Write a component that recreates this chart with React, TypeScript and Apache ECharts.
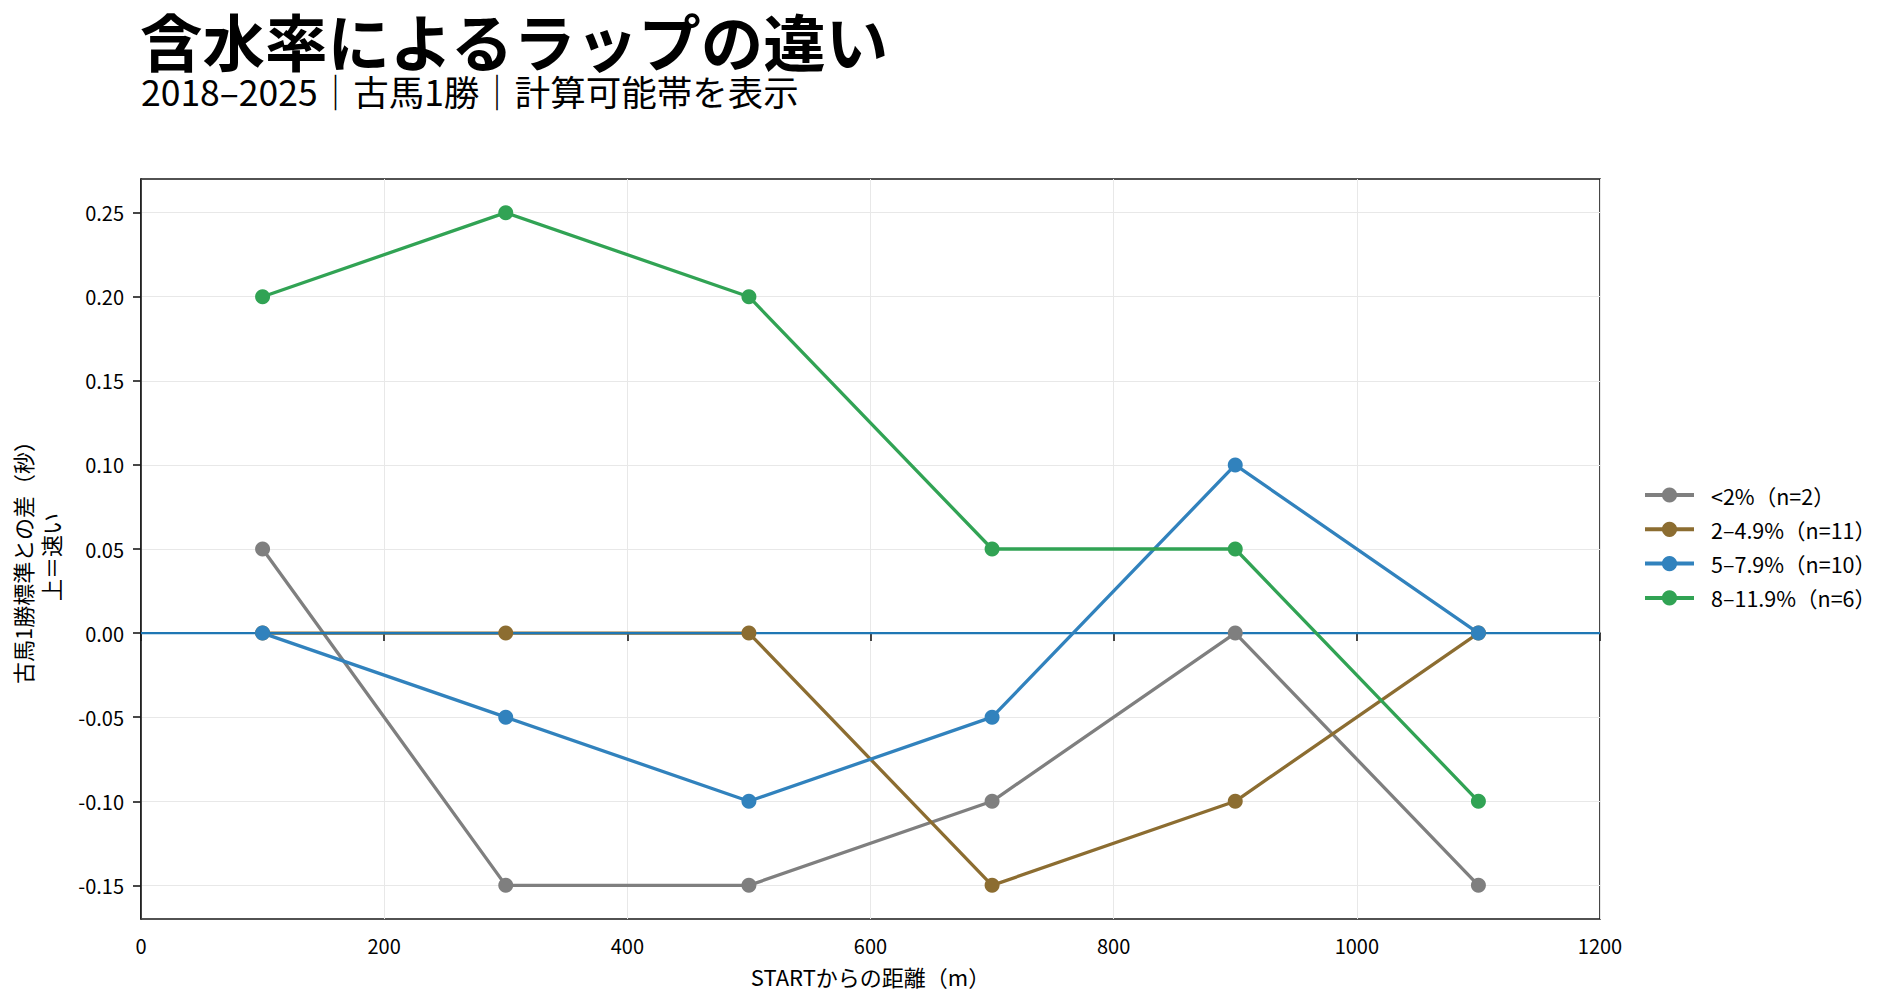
import React, { useEffect, useRef } from "react";
import * as echarts from "echarts";

const FONT = "'Noto Sans CJK JP', 'Noto Sans', sans-serif";

const TITLE = "含水率によるラップの違い";
const SUBTITLE = "2018–2025｜古馬1勝｜計算可能帯を表示";
const X_NAME = "STARTからの距離（m）";
const Y_NAME = "古馬1勝標準との差（秒）\n上＝速い";

const distances = [100, 300, 500, 700, 900, 1100];
const seriesNames = ["<2%（n=2）", "2–4.9%（n=11）", "5–7.9%（n=10）", "8–11.9%（n=6）"];
const seriesColors = ["#7f7f7f", "#8c6d31", "#3182bd", "#31a354"];
const under2 = [0.05, -0.15, -0.15, -0.1, 0.0, -0.15];
const from2to49 = [0.0, 0.0, 0.0, -0.15, -0.1, 0.0];
const from5to79 = [0.0, -0.05, -0.1, -0.05, 0.1, 0.0];
const from8to119 = [0.2, 0.25, 0.2, 0.05, 0.05, -0.1];
const seriesValues = [under2, from2to49, from5to79, from8to119];

const yTicks = [-0.15, -0.1, -0.05, 0, 0.05, 0.1, 0.15, 0.2, 0.25];
const yMin = -0.17;
const yMax = 0.27;
const xMin = 0;
const xMax = 1200;
const xInterval = 200;
const zeroLine = [[xMin, 0], [xMax, 0]];

export default function App() {
  const ref = useRef<HTMLDivElement>(null);
  useEffect(() => {
    if (!ref.current) return;
    const chart = echarts.init(ref.current, undefined, { renderer: "svg" });
    const dataSeries = seriesNames.map((name, i) => ({
      name,
      type: "line",
      data: distances.map((d, j) => [d, seriesValues[i][j]]),
      symbol: "circle",
      symbolSize: 15,
      showSymbol: true,
      lineStyle: { color: seriesColors[i], width: 3.3 },
      itemStyle: { color: seriesColors[i] },
      emphasis: { disabled: true },
    }));
    const zero = {
      name: "zero",
      type: "line",
      data: zeroLine,
      symbol: "none",
      lineStyle: { color: "#1f77b4", width: 2.2 },
      emphasis: { disabled: true },
      silent: true,
    };
    const series = [dataSeries[0], dataSeries[1], zero, dataSeries[2], dataSeries[3]];
    chart.setOption({
      animation: false,
      backgroundColor: "#ffffff",
      textStyle: { fontFamily: FONT },
      graphic: [
        {
          type: "text",
          x: 140,
          y: 39,
          style: {
            text: TITLE,
            font: `bold 62.5px ${FONT}`,
            lineHeight: 62,
            fill: "#000",
            verticalAlign: "middle",
            align: "left",
          },
        },
        {
          type: "text",
          x: 141,
          y: 90,
          style: {
            text: SUBTITLE,
            font: `35.5px ${FONT}`,
            lineHeight: 36,
            fill: "#000",
            verticalAlign: "middle",
            align: "left",
          },
        },
        {
          type: "text",
          x: 36,
          y: 557,
          rotation: Math.PI / 2,
          style: {
            text: Y_NAME,
            font: `22px ${FONT}`,
            lineHeight: 28,
            fill: "#000",
            verticalAlign: "middle",
            align: "center",
          },
        },
      ],
      grid: {
        left: 141,
        top: 179,
        right: 287,
        bottom: 86,
        show: true,
        borderColor: "#1a1a1a",
        borderWidth: 1.6,
        backgroundColor: "transparent",
        outerBoundsMode: "none",
        containLabel: false,
      },
      legend: {
        orient: "vertical",
        left: 1638,
        top: 478,
        data: seriesNames,
        itemWidth: 49,
        itemHeight: 19,
        itemGap: 10.3,
        selectedMode: false,
        lineStyle: { width: 4 },
        textStyle: {
          fontFamily: FONT,
          fontSize: 21.5,
          lineHeight: 24,
          color: "#000",
          padding: [0, 0, 0, 12],
        },
      },
      xAxis: {
        type: "value",
        min: xMin,
        max: xMax,
        interval: xInterval,
        name: X_NAME,
        nameLocation: "middle",
        nameGap: 44,
        nameTextStyle: { fontFamily: FONT, fontSize: 22, color: "#000", lineHeight: 26 },
        axisLine: { show: true, lineStyle: { color: "#1a1a1a", width: 1.6 } },
        axisTick: { show: true, length: 8, lineStyle: { color: "#1a1a1a", width: 1.6 } },
        axisLabel: {
          fontFamily: FONT,
          fontSize: 20,
          color: "#000",
          margin: 16,
          formatter: (v: number) => String(v),
        },
        splitLine: { show: true, lineStyle: { color: "#e8e8e8", width: 1 } },
      },
      yAxis: {
        type: "value",
        min: yMin,
        max: yMax,
        axisLine: { show: true, lineStyle: { color: "#1a1a1a", width: 1.6 } },
        axisTick: { show: true, length: 8, customValues: yTicks, lineStyle: { color: "#1a1a1a", width: 1.6 } },
        axisLabel: {
          fontFamily: FONT,
          fontSize: 20,
          color: "#000",
          margin: 17,
          customValues: yTicks,
          formatter: (v: number) => v.toFixed(2),
        },
        splitLine: { show: true, lineStyle: { color: "#e8e8e8", width: 1 } },
      },
      series,
    });
    return () => chart.dispose();
  }, []);
  return (
    <div
      ref={ref}
      style={{ position: "fixed", left: 0, top: 0, width: 1887, height: 1005 }}
    />
  );
}
